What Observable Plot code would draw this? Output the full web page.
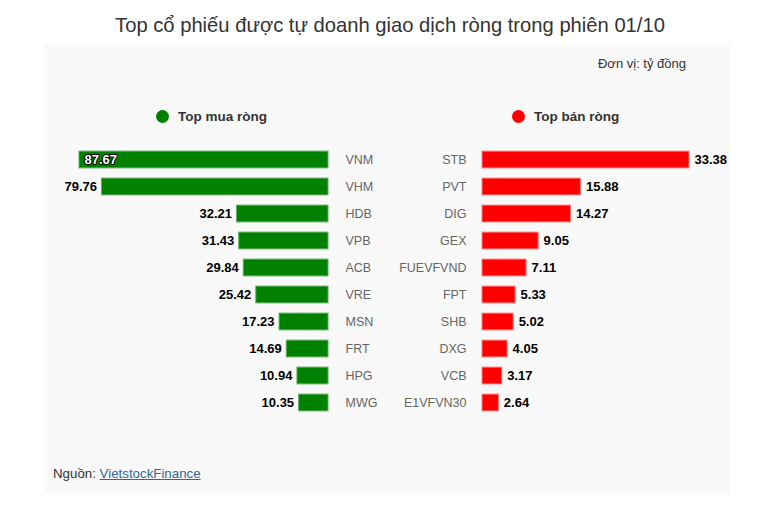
<!DOCTYPE html>
<html>
<head>
<meta charset="utf-8">
<script src="https://cdn.jsdelivr.net/npm/d3@7"></script>
<script src="https://cdn.jsdelivr.net/npm/@observablehq/plot@0.6"></script>
<style>
  html, body { margin: 0; padding: 0; background: #fff; }
  body { font-family: "Liberation Sans", Arial, sans-serif; }
  #root { position: relative; width: 780px; height: 512px; overflow: hidden; }
  #title { position: absolute; left: 0; top: 14px; width: 780px; text-align: center; font-size: 20.2px; color: #333; }
  #panel { position: absolute; left: 44px; top: 44px; width: 686px; height: 449px; background: #f9f9f9; }
  .abs { position: absolute; }
  .unit { right: 94px; top: 56px; font-size: 13px; color: #333; }
  .leg { font-size: 13.5px; font-weight: bold; color: #333; display: flex; align-items: center; }
  .dot { display: inline-block; width: 13px; height: 13px; border-radius: 50%; margin-right: 9px; }
  .src { left: 53px; top: 466px; font-size: 13.3px; color: #333; }
  .src a { color: #336699; text-decoration: underline; }
  svg.plot { position: absolute; left: 0; top: 0; }
</style>
</head>
<body>
<div id="root">
  <div id="panel"></div>
  <div id="title">Top cổ phiếu được tự doanh giao dịch ròng trong phiên 01/10</div>
  <div class="abs unit">Đơn vị: tỷ đồng</div>
  <div class="abs leg" style="left:156px; top:109px;"><span class="dot" style="background:#008000"></span>Top mua ròng</div>
  <div class="abs leg" style="left:512px; top:109px;"><span class="dot" style="background:#ff0000"></span>Top bán ròng</div>
  <div class="abs src">Nguồn: <a>VietstockFinance</a></div>
</div>
<script>
const buyTickers = ["VNM","VHM","HDB","VPB","ACB","VRE","MSN","FRT","HPG","MWG"];
const buyValues  = [87.67, 79.76, 32.21, 31.43, 29.84, 25.42, 17.23, 14.69, 10.94, 10.35];
const sellTickers = ["STB","PVT","DIG","GEX","FUEVFVND","FPT","SHB","DXG","VCB","E1VFVN30"];
const sellValues  = [33.38, 15.88, 14.27, 9.05, 7.11, 5.33, 5.02, 4.05, 3.17, 2.64];

const buy = buyTickers.map((t, i) => ({ticker: t, value: buyValues[i]}));
const sell = sellTickers.map((t, i) => ({ticker: t, value: sellValues[i]}));
const buyMax = d3.max(buyValues);
const sellMax = d3.max(sellValues);

const common = {
  width: 780, height: 512, margin: 0,
  style: {background: "transparent", fontFamily: "'Liberation Sans', Arial, sans-serif"}
};

const left = Plot.plot({
  ...common,
  x: {domain: [0, buyMax], range: [328, 79], axis: null},
  y: {domain: buyTickers, range: [145.4, 417.4], padding: 0, axis: null},
  marks: [
    Plot.barX(buy, {x: "value", y: "ticker", fill: "#008000", stroke: "#5fae5f", strokeWidth: 1, insetTop: 5.1, insetBottom: 5.1}),
    Plot.text(buy, {x: 0, y: "ticker", text: "ticker", dx: 17, textAnchor: "start", fill: "#666", fontSize: 12.5}),
    Plot.text(buy.filter(d => d.value < buyMax), {x: "value", y: "ticker", text: d => d.value.toFixed(2), dx: -5, textAnchor: "end", fill: "#000", fontWeight: "bold", fontSize: 13}),
    Plot.text(buy.filter(d => d.value === buyMax), {x: "value", y: "ticker", text: d => d.value.toFixed(2), dx: 5, textAnchor: "start", fill: "#fff", stroke: "#000", strokeWidth: 2, fontWeight: "bold", fontSize: 13})
  ]
});
left.classList.add("plot");

const right = Plot.plot({
  ...common,
  x: {domain: [0, sellMax], range: [482, 689], axis: null},
  y: {domain: sellTickers, range: [145.4, 417.4], padding: 0, axis: null},
  marks: [
    Plot.barX(sell, {x: "value", y: "ticker", fill: "#ff0000", stroke: "#ff7a7a", strokeWidth: 1, insetTop: 5.1, insetBottom: 5.1}),
    Plot.text(sell, {x: 0, y: "ticker", text: "ticker", dx: -16, textAnchor: "end", fill: "#666", fontSize: 12.5}),
    Plot.text(sell, {x: "value", y: "ticker", text: d => d.value.toFixed(2), dx: 5, textAnchor: "start", fill: "#000", fontWeight: "bold", fontSize: 13})
  ]
});
right.classList.add("plot");

const root = document.getElementById("root");
root.appendChild(left);
root.appendChild(right);
</script>
</body>
</html>
